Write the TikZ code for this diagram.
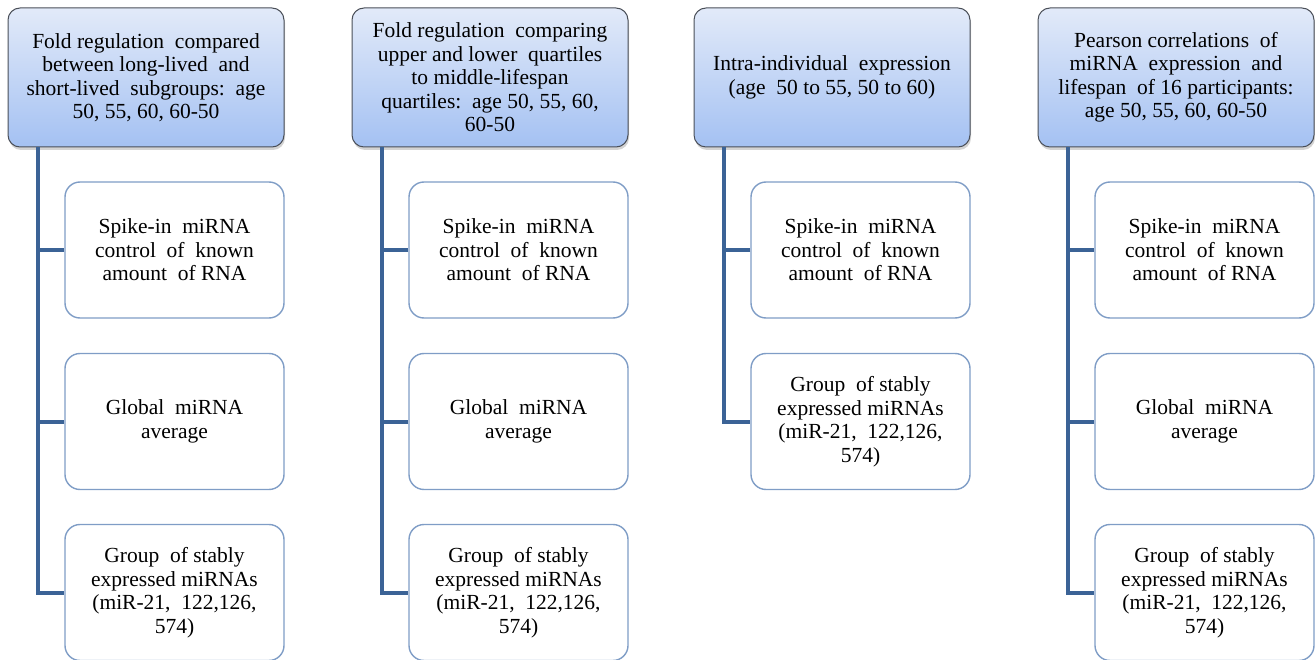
\documentclass[tikz,border=0pt]{standalone}
\usepackage{fontspec}
\setmainfont{Liberation Serif}
\usetikzlibrary{shadows,calc}
\definecolor{hdrtop}{HTML}{E2EAF9}
\definecolor{hdrbot}{HTML}{A4C1F2}
\definecolor{hdrline}{HTML}{4A4F58}
\definecolor{boxline}{HTML}{7F9DC6}
\definecolor{connc}{HTML}{3B6396}
\tikzset{
  hdr/.style={draw=hdrline, line width=1pt, rounded corners=12pt,
    top color=hdrtop, bottom color=hdrbot,
    drop shadow={opacity=0.35, shadow xshift=1pt, shadow yshift=-3pt},
    minimum width=276pt, minimum height=139pt, inner sep=3pt,
    align=center, font=\rmfamily\fontsize{21.5}{23.5}\selectfont},
  child/.style={draw=boxline, line width=1.4pt, rounded corners=15pt, fill=white,
    minimum width=219pt, minimum height=136pt, inner sep=3pt,
    align=center, font=\rmfamily\fontsize{21.5}{23.5}\selectfont},
  conn/.style={draw=connc, line width=4pt}
}
\begin{document}
\begin{tikzpicture}[x=1pt,y=1pt]
\useasboundingbox (0,0) rectangle (1315,-660);
% headers
\node[hdr] (h1) at (146,-77.5) {Fold regulation\ \ compared\\between\ long-lived\ \ and\\short-lived\ \ subgroups:\ \ age\\50, 55, 60, 60-50};
\node[hdr] (h2) at (490,-77.5) {Fold regulation\ \ comparing\\upper\ and\ lower\ \ quartiles\\to middle-lifespan\\quartiles:\ \ age 50, 55, 60,\\60-50};
\node[hdr] (h3) at (832,-77.5) {Intra-individual\ \ expression\\(age\ \ 50 to 55, 50 to 60)};
\node[hdr] (h4) at (1176,-77.5) {Pearson correlations\ \ of\\miRNA\ \ expression\ \ and\\lifespan\ \ of 16 participants:\\age 50, 55, 60, 60-50};
% column 1
\node[child] (c11) at (174.5,-250) {Spike-in\ \ miRNA\\control\ \ of\ \ known\\amount\ \ of RNA};
\node[child] (c12) at (174.5,-421.5) {Global\ \ miRNA\\average};
\node[child] (c13) at (174.5,-592.5) {Group\ \ of stably\\expressed miRNAs\\(miR-21,\ \ 122,126,\\574)};
% column 2
\node[child] (c21) at (518.5,-250) {Spike-in\ \ miRNA\\control\ \ of\ \ known\\amount\ \ of RNA};
\node[child] (c22) at (518.5,-421.5) {Global\ \ miRNA\\average};
\node[child] (c23) at (518.5,-592.5) {Group\ \ of stably\\expressed miRNAs\\(miR-21,\ \ 122,126,\\574)};
% column 3
\node[child] (c31) at (860.5,-250) {Spike-in\ \ miRNA\\control\ \ of\ \ known\\amount\ \ of RNA};
\node[child] (c32) at (860.5,-421.5) {Group\ \ of stably\\expressed miRNAs\\(miR-21,\ \ 122,126,\\574)};
% column 4
\node[child] (c41) at (1204.5,-250) {Spike-in\ \ miRNA\\control\ \ of\ \ known\\amount\ \ of RNA};
\node[child] (c42) at (1204.5,-421.5) {Global\ \ miRNA\\average};
\node[child] (c43) at (1204.5,-592.5) {Group\ \ of stably\\expressed miRNAs\\(miR-21,\ \ 122,126,\\574)};
% connectors
\coordinate (v1) at ($(h1.south west)+(30,0)$);
\coordinate (v2) at ($(h2.south west)+(30,0)$);
\coordinate (v3) at ($(h3.south west)+(30,0)$);
\coordinate (v4) at ($(h4.south west)+(30,0)$);
\draw[conn] (v1) |- (c13.west);
\draw[conn] (c11.west) -- (c11.west -| v1);
\draw[conn] (c12.west) -- (c12.west -| v1);
\draw[conn] (v2) |- (c23.west);
\draw[conn] (c21.west) -- (c21.west -| v2);
\draw[conn] (c22.west) -- (c22.west -| v2);
\draw[conn] (v3) |- (c32.west);
\draw[conn] (c31.west) -- (c31.west -| v3);
\draw[conn] (v4) |- (c43.west);
\draw[conn] (c41.west) -- (c41.west -| v4);
\draw[conn] (c42.west) -- (c42.west -| v4);
\end{tikzpicture}
\end{document}
